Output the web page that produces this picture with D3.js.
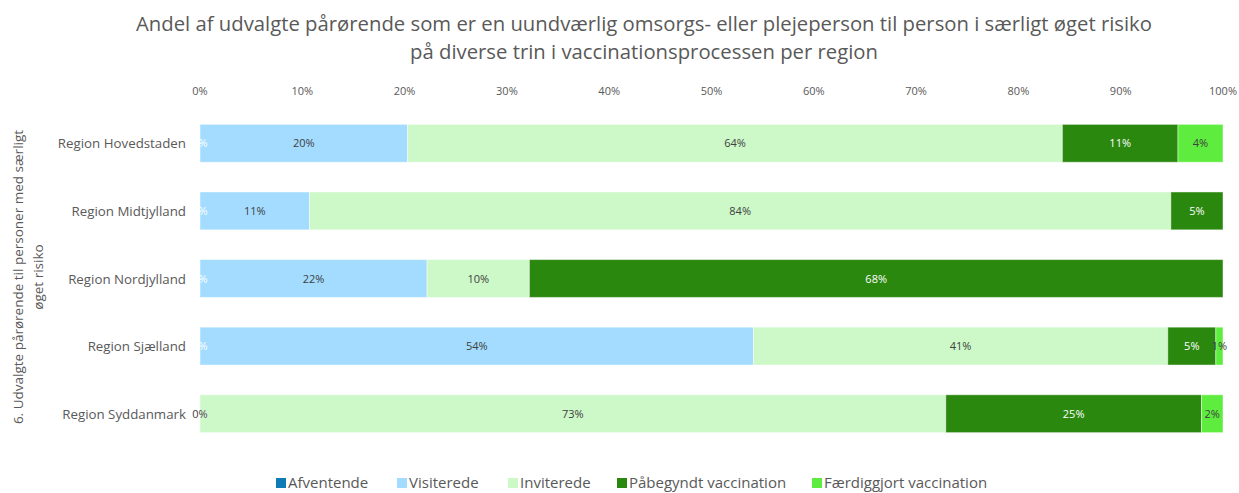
<!DOCTYPE html>
<html>
<head>
<meta charset="utf-8">
<script src="https://cdn.jsdelivr.net/npm/d3@7"></script>
<style>
  body { margin: 0; background: #fff; }
  text { font-family: "Open Sans", "Noto Sans", sans-serif; fill: #595959; }
</style>
</head>
<body>
<div id="chart"></div>
<script>
const regions = ["Region Hovedstaden", "Region Midtjylland", "Region Nordjylland", "Region Sjælland", "Region Syddanmark"];
const seriesNames = ["Afventende", "Visiterede", "Inviterede", "Påbegyndt vaccination", "Færdiggjort vaccination"];
const afventende = [0, 0, 0, 0, 0];
const visiterede = [20.3, 10.7, 22.2, 54.1, 0];
const inviterede = [64.0, 84.2, 10.0, 40.5, 72.9];
const paabegyndt = [11.3, 5.1, 67.8, 4.7, 25.0];
const faerdig = [4.4, null, null, 0.7, 2.1];
const xTicks = [0, 10, 20, 30, 40, 50, 60, 70, 80, 90, 100];
const colors = ["#0e7bb6", "#a3dcff", "#cdf8c8", "#2b880f", "#5eed3e"];
const labelColors = ["#ffffff", "#404040", "#404040", "#ffffff", "#404040"];

const svgWidth = 1239, svgHeight = 493;
const svg = d3.select("#chart").append("svg")
    .attr("width", svgWidth)
    .attr("height", svgHeight);

const x = d3.scaleLinear().domain([0, 100]).range([200, 1223]);
const y = d3.scaleBand().domain(regions).range([109.5, 447.5]).paddingInner(0.44).paddingOuter(0.22);

// title
const title = svg.append("text")
    .attr("text-anchor", "middle")
    .style("font-size", "20.3px");
title.append("tspan").attr("x", 644).attr("y", 31)
    .text("Andel af udvalgte pårørende som er en uundværlig omsorgs- eller plejeperson til person i særligt øget risiko");
title.append("tspan").attr("x", 644).attr("y", 59)
    .text("på diverse trin i vaccinationsprocessen per region");

// top axis labels
svg.append("g").selectAll("text").data(xTicks).join("text")
    .attr("x", d => x(d))
    .attr("y", 95)
    .attr("text-anchor", "middle")
    .style("font-size", "11px")
    .text(d => d + "%");

// stacked data
const allSeries = [afventende, visiterede, inviterede, paabegyndt, faerdig];
const rows = regions.map((r, i) => {
    let acc = 0;
    return allSeries.map((s, k) => {
        const v = s[i];
        const seg = { region: r, k: k, v: v, x0: acc, x1: acc + (v || 0) };
        acc += (v || 0);
        return seg;
    });
});
const segs = rows.flat();

svg.append("g").selectAll("rect").data(segs.filter(d => d.v)).join("rect")
    .attr("x", d => x(d.x0))
    .attr("y", d => y(d.region))
    .attr("width", d => x(d.x1) - x(d.x0))
    .attr("height", y.bandwidth())
    .attr("fill", d => colors[d.k])
    .attr("stroke", "#ffffff")
    .attr("stroke-opacity", 0.45)
    .attr("stroke-width", 1);

svg.append("g").selectAll("text").data(segs.filter(d => d.v !== null)).join("text")
    .attr("x", d => x((d.x0 + d.x1) / 2))
    .attr("y", d => y(d.region) + y.bandwidth() / 2 + 4)
    .attr("text-anchor", "middle")
    .style("font-size", "11px")
    .style("fill", d => labelColors[d.k])
    .text(d => Math.round(d.v) + "%");

// category labels
svg.append("g").selectAll("text").data(regions).join("text")
    .attr("x", 186)
    .attr("y", d => y(d) + y.bandwidth() / 2 + 5)
    .attr("text-anchor", "end")
    .style("font-size", "13.3px")
    .text(d => d);

// y axis title
const yt = svg.append("text")
    .attr("transform", "translate(0,277) rotate(-90)")
    .attr("text-anchor", "middle")
    .style("font-size", "13.5px");
yt.append("tspan").attr("x", 0).attr("y", 23).text("6. Udvalgte pårørende til personer med særligt");
yt.append("tspan").attr("x", 0).attr("y", 43).text("øget risiko");

// legend
const legendX = [276, 397, 508, 617, 812];
const legend = svg.append("g").selectAll("g").data(seriesNames).join("g")
    .attr("transform", (d, i) => "translate(" + legendX[i] + ",0)");
legend.append("rect")
    .attr("x", 0).attr("y", 478)
    .attr("width", 10).attr("height", 10)
    .attr("fill", (d, i) => colors[i]);
legend.append("text")
    .attr("x", 12).attr("y", 488)
    .style("font-size", "15px")
    .text(d => d);
</script>
</body>
</html>
